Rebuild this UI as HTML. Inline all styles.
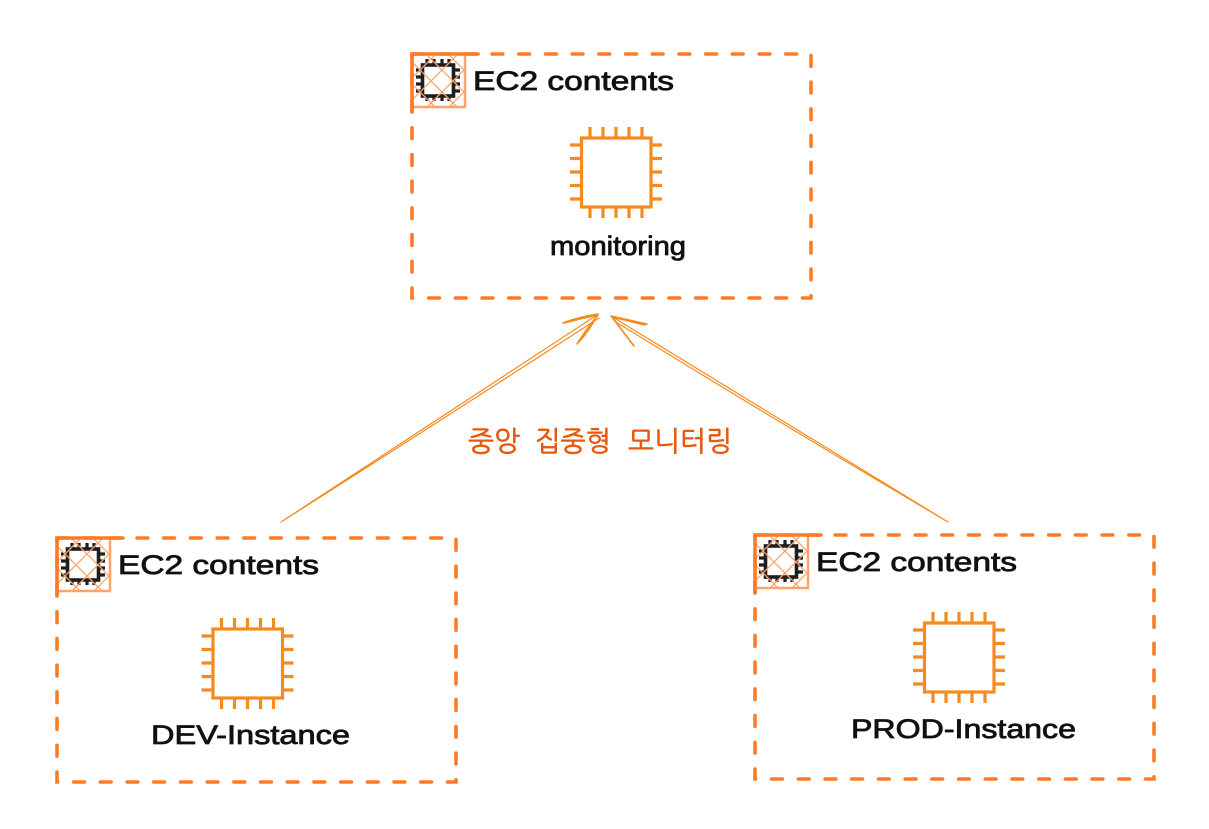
<!DOCTYPE html>
<html lang="ko"><head><meta charset="utf-8"><style>
html,body{margin:0;padding:0;background:#fff;width:1209px;height:829px;overflow:hidden}
svg{display:block}
.t{font-family:"Liberation Sans","DejaVu Sans",sans-serif;font-size:27px;fill:#111;stroke:#111;stroke-width:.8}
.k{font-family:"Liberation Sans","NanumGothic","Noto Sans CJK KR",sans-serif;font-size:28px;fill:#e8590c;stroke:#e8590c;stroke-width:.6}
</style></head><body>
<svg width="1209" height="829" viewBox="0 0 1209 829" xmlns="http://www.w3.org/2000/svg">
<defs>
<pattern id="h" width="22" height="22" patternUnits="userSpaceOnUse" patternTransform="translate(2 4)">
<path d="M0 0L22 22M22 0L0 22" stroke="#ffa36b" stroke-width="1.300" fill="none"/>
</pattern>
<g id="chip" fill="none" stroke="#f58a1f" stroke-width="3.200">
<rect x="581.5" y="138" width="69.5" height="69"/>
<path d="M590 127V138M603 127V138M616 127V138M629 127V138M642 127V138M590 207V218M603 207V218M616 207V218M629 207V218M642 207V218M570 145H581M570 158.500H581M570 172H581M570 185.500H581M570 199H581M651 145H662M651 158.500H662M651 172H662M651 185.500H662M651 199H662"/>
</g>
<g id="box">
<rect x="412" y="54" width="399" height="244" fill="none" stroke="#fd7b25" stroke-width="3.600" stroke-linecap="round" stroke-dasharray="10.700 16"/>
<g fill="none" stroke="#1e1e1e">
<rect x="422.500" y="65" width="31" height="31" stroke-width="3.600"/>
<path stroke-width="3.200" d="M427 59V65M434 59V65M442 59V65M449 59V65M427 96V101M434 96V101M442 96V101M449 96V101M416 70H422M416 77H422M416 84H422M416 91H422M454 70H460M454 77H460M454 84H460M454 91H460"/>
</g>
<rect x="412" y="54" width="53" height="53" fill="url(#h)" stroke="#ffa36b" stroke-width="2.500"/>
<path d="M412 54H478M412 54V112" stroke="#fd7b25" stroke-width="3.600" fill="none" stroke-linecap="round"/>
<text class="t" x="473" y="90" textLength="201" lengthAdjust="spacingAndGlyphs">EC2 contents</text>
</g>
</defs>
<use href="#box"/>
<use href="#box" x="-355" y="484"/>
<use href="#box" x="343" y="481"/>
<use href="#chip"/>
<use href="#chip" x="-368.500" y="491"/>
<use href="#chip" x="343" y="485"/>
<text class="t" x="550" y="255" textLength="136" lengthAdjust="spacingAndGlyphs">monitoring</text>
<text class="t" x="151" y="744" textLength="199" lengthAdjust="spacingAndGlyphs">DEV-Instance</text>
<text class="t" x="851" y="738" textLength="225" lengthAdjust="spacingAndGlyphs">PROD-Instance</text>
<text class="k" x="468" y="451" textLength="52" lengthAdjust="spacingAndGlyphs">중앙</text>
<text class="k" x="535" y="451" textLength="76" lengthAdjust="spacingAndGlyphs">집중형</text>
<text class="k" x="628" y="451" textLength="104" lengthAdjust="spacingAndGlyphs">모니터링</text>
<g fill="none" stroke="#f58a1f" stroke-width="1.200" stroke-linecap="round">
<path d="M281 522L597 315M281 522Q440 421 599 318"/>
<path d="M948 522L611 316M948 522Q780 423 616 322"/>
</g>
<g fill="none" stroke="#f58a1f" stroke-width="1.500" stroke-linecap="round">
<path d="M563 323Q578 317 598 314M564 323Q580 319 597 315M577 344Q587 328 598 315M578 343Q590 330 596 317"/>
<path d="M611 316L647 324M612 317L645 325M611 316L634 346M613 318L633 345"/>
</g>
</svg>
</body></html>
